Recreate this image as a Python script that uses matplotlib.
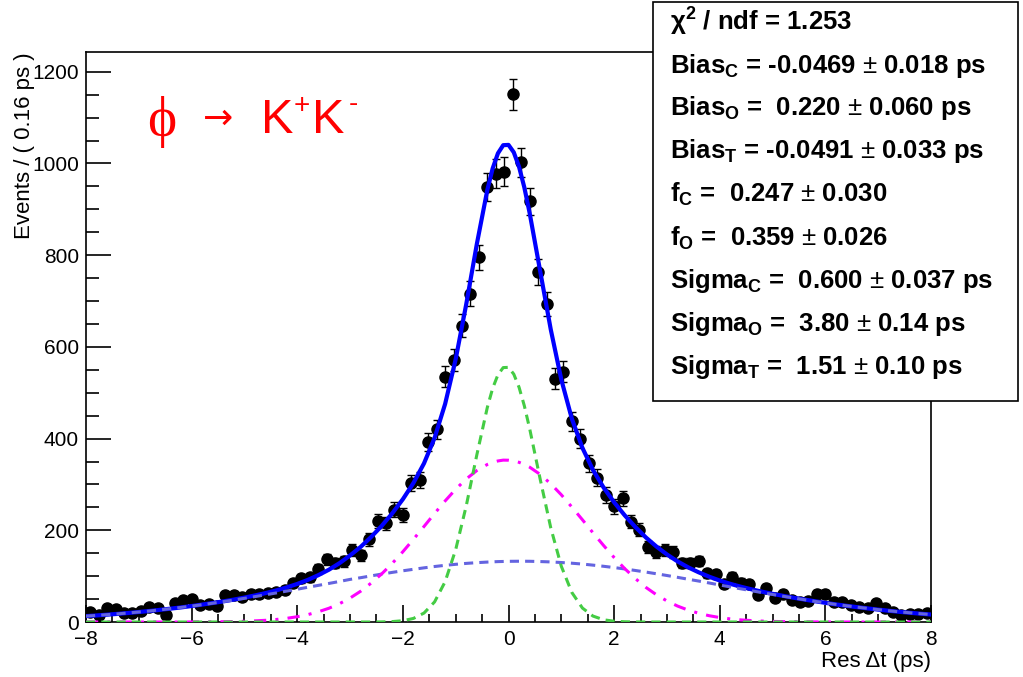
import numpy as np
import matplotlib
matplotlib.use("Agg")
import matplotlib.pyplot as plt
from matplotlib.patches import Rectangle
from matplotlib.ticker import MultipleLocator

plt.rcParams['font.family'] = ['Liberation Sans', 'DejaVu Sans']
plt.rcParams['mathtext.fontset'] = 'custom'
plt.rcParams['mathtext.rm'] = 'Liberation Sans'
plt.rcParams['mathtext.bf'] = 'Liberation Sans:bold'
plt.rcParams['mathtext.it'] = 'Liberation Sans:italic'

# histogram: 100 bins of 0.16 ps from -8 to 8
bin_centers = np.linspace(-7.92, 7.92, 100)
counts = [22, 15, 30, 29, 20, 19, 25, 33, 30, 15,
          42, 48, 50, 36, 40, 35, 58, 58, 54, 62,
          60, 63, 66, 70, 85, 95, 98, 116, 137, 128,
          132, 157, 146, 180, 220, 215, 245, 233, 304, 310,
          393, 420, 535, 571, 646, 716, 795, 949, 978, 982,
          1151, 1003, 917, 763, 694, 531, 546, 438, 400, 346,
          315, 277, 252, 270, 219, 201, 164, 153, 157, 153,
          128, 128, 133, 106, 104, 83, 99, 86, 83, 59,
          74, 52, 62, 48, 43, 46, 61, 61, 43, 43,
          37, 33, 30, 41, 31, 22, 15, 17, 17, 20]

# fit components, every 0.2 ps from -8 to 8
curve_x = np.linspace(-8, 8, 81)
core = [0] * 28 + [0.2, 0.9, 2.8, 7.8, 19.5, 43.8, 87.9, 157.8, 253.4, 364.3,
                   468.4, 539.2, 555.3, 511.8, 422.0, 311.4, 205.6, 121.5, 64.3, 30.4,
                   12.9, 4.9, 1.7, 0.5, 0.1] + [0] * 28
tail = [0] * 10 + [0.1, 0.2, 0.4, 0.6, 1.0, 1.6, 2.5, 3.7, 5.5, 8.0,
                   11.5, 16.1, 22.3, 30.0, 39.9, 52.2, 67.1, 84.9, 105.0, 128.0,
                   153.3, 180.4, 208.3, 236.6, 264.0, 289.5, 311.9, 330.3, 343.6, 351.2,
                   352.8, 348.2, 337.7, 321.8, 301.4, 277.4, 250.6, 222.9, 194.5, 166.9,
                   140.6, 116.5, 94.9, 75.6, 59.5, 45.9, 34.8, 26.0, 19.1, 13.7,
                   9.7, 6.7, 4.6, 3.1, 2.0, 1.3, 0.8, 0.5, 0.3, 0.2, 0.1] + [0] * 10
outlier = [12.8, 14.3, 16.0, 17.7, 19.7, 21.8, 24.0, 26.5, 29.1, 31.8,
           34.7, 37.8, 41.0, 44.4, 47.9, 51.6, 55.4, 59.3, 63.3, 67.4,
           71.5, 75.7, 79.9, 84.1, 88.4, 92.9, 96.6, 100.6, 104.5, 108.2,
           111.7, 114.9, 118.1, 121.0, 123.6, 125.8, 127.8, 129.4, 130.7, 131.7,
           132.3, 132.5, 132.4, 131.8, 131.0, 129.7, 128.2, 126.3, 124.0, 121.5,
           118.7, 115.7, 112.4, 108.9, 105.2, 101.4, 97.4, 93.3, 89.3, 85.1,
           80.7, 76.5, 72.3, 68.2, 64.1, 60.1, 56.2, 52.4, 48.7, 45.1,
           41.7, 38.4, 35.3, 32.4, 29.7, 27.0, 24.5, 22.2, 20.1, 18.1, 16.3]
# extra readings around the peak
peak_x = [-0.3, -0.1, 0.1, 0.3]
peak_core = [509.6, 554.8, 540.5, 471.4]
peak_tail = [348.2, 353.0, 351.3, 343.7]
peak_outlier = [131.2, 132.0, 132.4, 132.5]

stats_lines = [
    r'$\mathbf{\chi^{2}}$ / ndf = 1.253',
    r'Bias$_{\mathbf{C}}$ = -0.0469 $\pm$ 0.018 ps',
    r'Bias$_{\mathbf{O}}$ =  0.220 $\pm$ 0.060 ps',
    r'Bias$_{\mathbf{T}}$ = -0.0491 $\pm$ 0.033 ps',
    r'f$_{\mathbf{C}}$ =  0.247 $\pm$ 0.030',
    r'f$_{\mathbf{O}}$ =  0.359 $\pm$ 0.026',
    r'Sigma$_{\mathbf{C}}$ =  0.600 $\pm$ 0.037 ps',
    r'Sigma$_{\mathbf{O}}$ =  3.80 $\pm$ 0.14 ps',
    r'Sigma$_{\mathbf{T}}$ =  1.51 $\pm$ 0.10 ps',
]

xs = np.concatenate([curve_x, peak_x])
order = np.argsort(xs)
xs = xs[order]
core_all = np.concatenate([core, peak_core])[order]
tail_all = np.concatenate([tail, peak_tail])[order]
outlier_all = np.concatenate([outlier, peak_outlier])[order]
total = core_all + tail_all + outlier_all

W, H = 1023, 677
fig = plt.figure(figsize=(W / 100, H / 100), dpi=100)
ax = fig.add_axes([86 / W, 1 - 622 / H, (931 - 86) / W, (622 - 52) / H])

yerr = np.sqrt(counts)
ax.errorbar(bin_centers, counts, yerr=yerr, fmt='o', color='black', ms=8,
            elinewidth=1.0, capsize=3, capthick=1.0, zorder=2)
ax.plot(xs, total, color='#0000ff', lw=3.0, zorder=3)
ax.plot(xs, outlier_all, color='#6464e0', lw=2.2, ls=(0, (3, 2)), zorder=4)
ax.plot(xs, tail_all, color='#ff00ff', lw=2.2, ls=(0, (4, 3, 1, 3)), zorder=4)
ax.plot(xs, core_all, color='#44cc44', lw=2.2, ls=(0, (3, 2)), zorder=4)

ax.set_xlim(-8, 8)
ax.set_ylim(0, 1243)
ax.xaxis.set_major_locator(MultipleLocator(2))
ax.xaxis.set_minor_locator(MultipleLocator(0.5))
ax.yaxis.set_major_locator(MultipleLocator(200))
ax.yaxis.set_minor_locator(MultipleLocator(50))
ax.tick_params(axis='both', which='both', direction='in', top=False, right=False,
               labelsize=15, width=1.2)
ax.tick_params(axis='y', which='major', length=18, pad=5)
ax.tick_params(axis='y', which='minor', length=9)
ax.tick_params(axis='x', which='major', length=12, pad=6)
ax.tick_params(axis='x', which='minor', length=6)
for s in ax.spines.values():
    s.set_linewidth(1.2)

fig.text(25 / W, 1 - 52 / H, 'Events / ( 0.16 ps )', rotation=90, ha='center',
         va='top', fontsize=16)
fig.text(931 / W, 1 - 661 / H, u'Res \u0394t (ps)', ha='right', va='center',
         fontsize=16)

# decay label
red = '#ff0000'
fig.text(162 / W, 1 - 122 / H, u'\u03d5', color=red, fontsize=40, ha='center',
         va='center', family=['Liberation Serif', 'DejaVu Serif'])
fig.text(218 / W, 1 - 119 / H, u'\u2192', color=red, fontsize=26, ha='center',
         va='center', family=['DejaVu Sans'])
fig.text(261 / W, 1 - 133 / H, 'K', color=red, fontsize=35, ha='left', va='baseline')
fig.text(302 / W, 1 - 106 / H, '+', color=red, fontsize=20, ha='center', va='center')
fig.text(312 / W, 1 - 133 / H, 'K', color=red, fontsize=35, ha='left', va='baseline')
fig.text(353 / W, 1 - 104 / H, '-', color=red, fontsize=20, ha='center', va='center')

# fit results box
fig.add_artist(Rectangle((653 / W, 1 - 401 / H), (1018 - 653) / W, 399 / H,
                         transform=fig.transFigure, facecolor='white',
                         edgecolor='black', lw=1.2, zorder=5))
line_y = [22, 66, 108, 151, 194, 238, 281, 324, 367]
for txt, yy in zip(stats_lines, line_y):
    fig.text(670 / W, 1 - yy / H, txt, ha='left', va='center', fontsize=18.5,
             fontweight='bold', zorder=6)

fig.savefig('out.png', dpi=100)
